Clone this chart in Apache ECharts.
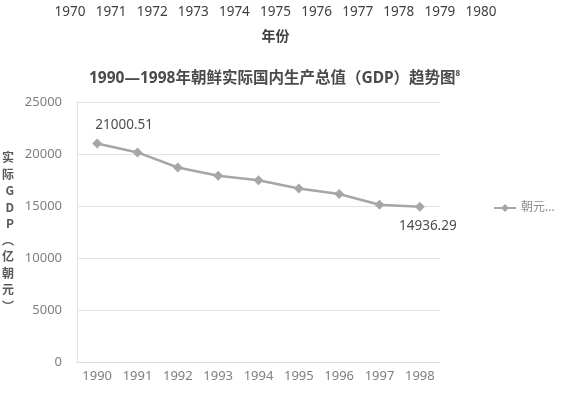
<!DOCTYPE html>
<html><head><meta charset="utf-8">
<script src="https://cdn.jsdelivr.net/npm/echarts@6/dist/echarts.min.js"></script>
<style>html,body{margin:0;padding:0;background:#fff}#c{width:580px;height:394px}</style>
</head><body><div id="c"></div>
<script>
const years = ['1990','1991','1992','1993','1994','1995','1996','1997','1998'];
const gdp = [21000.51, 20150, 18700, 17900, 17480, 16680, 16160, 15120, 14936.29];
const topYears = ['1970','1971','1972','1973','1974','1975','1976','1977','1978','1979','1980'];
const yTicks = [0, 5000, 10000, 15000, 20000, 25000];
const seriesName = '朝元...';
const yName = ['实','际','G','D','P','︵','亿','朝','元','︶'];

const font = '"Noto Sans", "Noto Sans CJK SC", sans-serif';
const cjk = '"Noto Sans CJK SC", sans-serif';
const chart = echarts.init(document.getElementById('c'));
chart.setOption({
  animation: false,
  textStyle: {fontFamily: font},
  title: {
    text: '1990—1998年朝鲜实际国内生产总值（GDP）趋势图{s|8}',
    left: 84, top: 65,
    textStyle: {fontSize: 15.5, fontWeight: 'bold', color: '#4a4a4a', fontFamily: font,
      rich: {s: {fontSize: 8, verticalAlign: 'top', color: '#4a4a4a', padding: [0,0,9,0]}}}
  },
  legend: {
    data: [seriesName], left: 488, top: 197, itemWidth: 22, itemHeight: 10, itemGap: 4,
    textStyle: {fontSize: 12, color: '#8c8c8c', fontFamily: font}
  },
  grid: [
    {left: 77, right: 140, top: 102, bottom: 32, containLabel: false, outerBoundsMode: 'none'},
    {left: 70, width: 411, top: 2, height: 1, containLabel: false, outerBoundsMode: 'none'}
  ],
  xAxis: [
    {type: 'category', data: years, gridIndex: 0, boundaryGap: true,
      axisLine: {lineStyle: {color: '#d9d9d9'}}, axisTick: {show: false},
      axisLabel: {color: '#7f7f7f', fontSize: 13, margin: 8}},
    {type: 'category', data: topYears, gridIndex: 1, boundaryGap: false,
      axisLine: {show: false}, axisTick: {show: false},
      axisLabel: {color: '#404040', fontSize: 13.5, margin: 2},
      name: '年份', nameLocation: 'middle', nameGap: 27,
      nameTextStyle: {fontSize: 14, fontWeight: 'bold', color: '#404040'}}
  ],
  yAxis: [
    {type: 'value', gridIndex: 0, min: yTicks[0], max: yTicks[yTicks.length-1], interval: 5000,
      axisLine: {show: true, lineStyle: {color: '#e3e3e3'}}, axisTick: {show: false},
      splitLine: {lineStyle: {color: '#e3e3e3'}},
      axisLabel: {color: '#7f7f7f', fontSize: 13, margin: 15, formatter: v => String(v)},
      name: yName.join('\n'), nameLocation: 'middle', nameGap: 63, nameRotate: 0,
      nameTextStyle: {fontSize: 12, lineHeight: 16.5, color: '#595959', fontWeight: 'bold', fontFamily: cjk}},
    {type: 'value', gridIndex: 1, show: false}
  ],
  series: [{
    name: seriesName, type: 'line', data: gdp, xAxisIndex: 0, yAxisIndex: 0,
    symbol: 'diamond', symbolSize: 10,
    lineStyle: {color: '#a6a6a6', width: 2.5},
    itemStyle: {color: '#a6a6a6'},
    label: {show: true, fontSize: 13.5, color: '#4d4d4d',
      formatter: p => (p.dataIndex === 0 || p.dataIndex === gdp.length - 1) ? p.value.toFixed(2) : '',
    },
    labelLayout: p => p.dataIndex === 0 ? {dx: 27, dy: -2} : {dy: 36, dx: 8}
  }]
});
</script></body></html>
